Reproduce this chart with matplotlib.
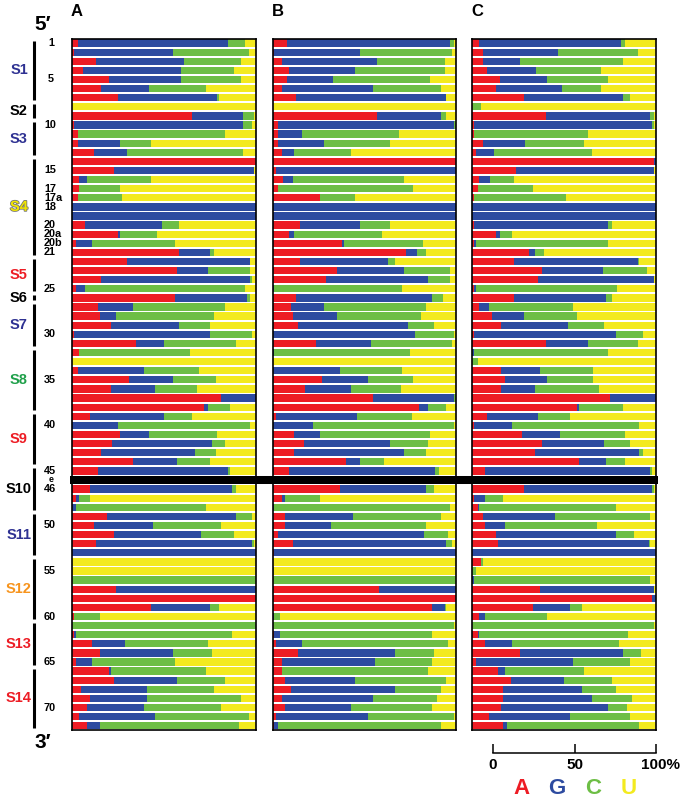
import numpy as np
import matplotlib
matplotlib.use("Agg")
import matplotlib.pyplot as plt
import matplotlib.patheffects as pe
from matplotlib import font_manager as fm

plt.rcParams["font.family"] = ["Liberation Sans", "DejaVu Sans"]

W, H = 680, 798

# rows, 5' -> 3' (e = variable loop marker)
positions = ["1", "2", "3", "4", "5", "6", "7", "8", "9", "10", "11", "12", "13", "14", "15", "16", "17",
             "17a", "18", "19", "20", "20a", "20b",
             "21", "22", "23", "24", "25", "26", "27", "28", "29", "30", "31", "32", "33", "34", "35",
             "36", "37", "38", "39", "40", "41", "42", "43", "44", "45",
             "e",
             "46", "47", "48", "49", "50", "51", "52", "53", "54", "55", "56", "57", "58", "59", "60",
             "61", "62", "63", "64", "65", "66", "67", "68", "69", "70", "71", "72"]

# % A / G / C / U per row, panel A
a_A = [3, 1, 13, 6, 20, 16, 25, 0, 65, 1, 3, 3, 12, 100, 23, 4, 4, 3, 0, 0, 7, 25, 2,
       58, 30, 57, 16, 2, 56, 14, 15, 21, 1, 35, 4, 0, 3, 31, 21, 81, 72, 10, 0, 26, 22, 16, 33, 14, 0,
       10, 2, 0, 19, 12, 23, 13, 0, 0, 0, 0, 24, 100, 43, 1, 0, 1, 11, 15, 2, 20, 23, 5, 10, 8, 4, 8]
a_G = [82, 54, 48, 53, 39, 26, 54, 0, 28, 92, 0, 23, 18, 0, 76, 4, 0, 0, 100, 100, 42, 1, 9,
       17, 67, 17, 81, 5, 39, 19, 9, 37, 74, 15, 0, 0, 36, 24, 24, 19, 2, 40, 25, 16, 54, 51, 24, 71, 0,
       77, 2, 2, 70, 32, 47, 85, 100, 0, 0, 0, 76, 0, 32, 0, 0, 1, 18, 40, 9, 1, 34, 36, 31, 31, 41, 7]
a_C = [9, 41, 31, 29, 33, 31, 1, 0, 6, 5, 80, 17, 63, 0, 0, 35, 22, 24, 0, 0, 9, 20, 45,
       2, 0, 23, 1, 87, 2, 50, 53, 17, 23, 39, 60, 0, 30, 23, 23, 0, 12, 15, 72, 37, 7, 11, 18, 1, 0,
       2, 6, 71, 9, 37, 18, 1, 0, 0, 0, 100, 0, 0, 5, 14, 100, 85, 45, 21, 45, 52, 26, 36, 51, 42, 51, 76]
a_U = [6, 4, 8, 12, 8, 27, 20, 100, 1, 2, 17, 57, 7, 0, 1, 57, 74, 73, 0, 0, 42, 54, 44,
       23, 3, 3, 2, 6, 3, 17, 23, 25, 2, 11, 36, 100, 31, 22, 32, 0, 14, 35, 3, 21, 17, 22, 25, 14, 0,
       11, 90, 27, 2, 19, 12, 1, 0, 100, 100, 0, 0, 0, 20, 85, 0, 13, 26, 24, 44, 27, 17, 23, 8, 19, 4, 9]

# panel B
b_A = [8, 1, 5, 9, 8, 5, 13, 0, 57, 3, 3, 3, 5, 100, 2, 6, 3, 26, 0, 0, 15, 9, 38,
       73, 15, 35, 29, 0, 13, 10, 11, 14, 0, 24, 0, 0, 0, 27, 18, 55, 80, 2, 0, 12, 17, 12, 40, 9, 0,
       37, 5, 0, 7, 7, 3, 11, 1, 0, 0, 0, 58, 100, 87, 0, 0, 1, 2, 14, 5, 5, 7, 10, 5, 7, 2, 1]
b_G = [89, 47, 52, 36, 25, 50, 82, 0, 35, 96, 13, 25, 7, 0, 98, 5, 0, 0, 100, 100, 33, 3, 1,
       6, 48, 37, 56, 1, 74, 18, 24, 60, 78, 30, 1, 0, 37, 25, 25, 44, 5, 44, 22, 14, 47, 60, 8, 80, 0,
       47, 2, 1, 37, 25, 80, 84, 99, 0, 0, 0, 42, 0, 7, 1, 0, 3, 14, 53, 51, 0, 38, 57, 50, 36, 50, 2]
b_C = [2, 50, 37, 49, 53, 37, 0, 0, 3, 1, 53, 36, 31, 0, 0, 61, 74, 19, 0, 0, 16, 48, 43,
       5, 4, 25, 12, 70, 6, 56, 46, 14, 21, 44, 74, 0, 34, 25, 27, 1, 10, 30, 77, 60, 21, 12, 13, 2, 0,
       4, 19, 96, 48, 52, 13, 3, 0, 0, 1, 100, 0, 0, 1, 3, 99, 83, 80, 21, 31, 80, 50, 25, 35, 44, 47, 89]
b_U = [1, 2, 6, 6, 14, 8, 5, 100, 5, 0, 31, 36, 57, 0, 0, 28, 23, 55, 0, 0, 36, 40, 18,
       16, 33, 3, 3, 29, 7, 16, 19, 12, 1, 2, 25, 100, 29, 23, 30, 0, 5, 24, 1, 14, 15, 16, 39, 9, 0,
       12, 74, 3, 8, 16, 4, 2, 0, 100, 99, 0, 0, 0, 5, 96, 1, 13, 4, 12, 13, 15, 5, 8, 10, 13, 1, 8]

# panel C
c_A = [4, 6, 6, 8, 15, 13, 28, 0, 40, 1, 1, 6, 2, 99, 24, 4, 3, 1, 0, 0, 1, 13, 1,
       31, 23, 38, 36, 1, 23, 4, 11, 16, 1, 40, 0, 0, 16, 18, 16, 75, 57, 8, 1, 27, 38, 34, 58, 7, 0,
       28, 1, 3, 6, 7, 13, 14, 0, 5, 0, 0, 37, 98, 33, 4, 0, 3, 7, 26, 2, 14, 21, 17, 17, 16, 9, 17]
c_G = [77, 41, 20, 27, 26, 36, 54, 0, 57, 97, 0, 23, 10, 1, 75, 6, 0, 0, 100, 100, 73, 2, 1,
       3, 67, 33, 63, 1, 50, 5, 17, 36, 77, 23, 1, 0, 21, 23, 18, 25, 1, 28, 21, 21, 34, 57, 15, 90, 0,
       70, 6, 1, 39, 11, 65, 82, 100, 0, 0, 1, 62, 2, 20, 3, 0, 1, 15, 56, 53, 4, 29, 43, 48, 58, 44, 2]
c_C = [2, 43, 56, 35, 33, 21, 4, 5, 2, 1, 62, 32, 53, 0, 0, 13, 30, 50, 0, 0, 2, 7, 72,
       5, 1, 24, 0, 77, 3, 46, 29, 20, 15, 27, 73, 3, 29, 25, 35, 0, 24, 17, 69, 35, 14, 2, 10, 1, 0,
       1, 10, 74, 52, 50, 10, 1, 0, 1, 2, 96, 0, 0, 7, 34, 99, 81, 58, 10, 31, 43, 26, 18, 22, 10, 33, 72]
c_U = [17, 10, 18, 30, 26, 30, 14, 95, 1, 1, 37, 39, 35, 0, 1, 77, 67, 49, 0, 0, 24, 78, 26,
       61, 9, 5, 1, 21, 24, 45, 43, 28, 7, 10, 26, 97, 34, 34, 31, 0, 18, 47, 9, 17, 14, 7, 17, 2, 0,
       1, 83, 22, 3, 32, 12, 3, 0, 94, 98, 3, 1, 0, 40, 59, 1, 15, 20, 8, 14, 39, 24, 22, 13, 16, 14, 9]

# stems: name, first row, last row, label colour
stem_names = ["S1", "S2", "S3", "S4", "S5", "S6", "S7", "S8", "S9", "S10", "S11", "S12", "S13", "S14"]
stem_first = ["1", "8", "10", "14", "22", "26", "27", "32", "39", "45", "49", "54", "61", "66"]
stem_last = ["7", "9", "13", "21", "25", "26", "31", "38", "44", "48", "53", "60", "65", "72"]
stem_colors = ["#2E3192", "black", "#2E3192", "#F2E600", "#ED1C24", "black", "#2E3192",
               "#1FA04A", "#ED1C24", "black", "#2E3192", "#F7941D", "#ED1C24", "#ED1C24"]

shown_labels = ["1", "5", "10", "15", "17", "17a", "18", "20", "20a", "20b", "21", "25", "30",
                "35", "40", "45", "e", "46", "50", "55", "60", "65", "70"]

nuc_labels = ["A", "G", "C", "U"]
nuc_colors = ["#ED1C24", "#2D4BA0", "#6DBE45", "#F3EA1F"]

panels = [("A", (a_A, a_G, a_C, a_U)),
          ("B", (b_A, b_G, b_C, b_U)),
          ("C", (c_A, c_G, c_C, c_U))]
panel_x = [(72, 256), (272.5, 455.5), (472, 656)]
TOP, BOT = 38.5, 730.3

n = len(positions)
for _, cols in panels:
    for col in cols:
        assert len(col) == n


def px_axes(fig, x0, x1, y0, y1):
    return fig.add_axes([x0 / W, 1 - y1 / H, (x1 - x0) / W, (y1 - y0) / H])


fig = plt.figure(figsize=(W / 100, H / 100), dpi=100)
rows = np.arange(n)

for (title, cols), (x0, x1) in zip(panels, panel_x):
    ax = px_axes(fig, x0, x1, TOP, BOT)
    left = np.zeros(n)
    for vals, colr in zip(cols, nuc_colors):
        vals = np.array(vals, dtype=float)
        ax.barh(rows, vals, left=left, height=0.8, color=colr, linewidth=0)
        left = left + vals
    ax.set_xlim(0, left.max())
    ax.set_ylim(n - 0.5, -0.5)
    ax.set_xticks([])
    ax.set_yticks([])
    for sp in ax.spines.values():
        sp.set_linewidth(1.2)
        sp.set_color("black")
    fig.text((x0 + 5) / W, 1 - 11 / H, title, ha="center", va="center",
             fontsize=12, fontweight="bold")

# black band for the variable loop, across all three panels
band = px_axes(fig, 70, 658, TOP, BOT)
band.barh(positions.index("e"), 1, height=0.9, color="black")
band.set_xlim(0, 1)
band.set_ylim(n - 0.5, -0.5)
band.axis("off")

# left side: stems and numbering
lab = px_axes(fig, 0, 70, TOP, BOT)
lab.set_xlim(0, 70)
lab.set_ylim(n - 0.5, -0.5)
lab.axis("off")

names = {f.name for f in fm.fontManager.ttflist}
num_family = "Liberation Sans Narrow" if "Liberation Sans Narrow" in names else "Liberation Sans"

for name, first, last, colr in zip(stem_names, stem_first, stem_last, stem_colors):
    i0, i1 = positions.index(first), positions.index(last)
    lab.vlines(34, i0 - 0.5 + 0.22, i1 + 0.5 - 0.22, color="black", lw=2.2)
    t = lab.text(19, (i0 + i1) / 2, name, ha="center", va="center",
                 fontsize=10.5, fontweight="bold", color=colr)
    if name == "S4":
        t.set_path_effects([pe.withStroke(linewidth=1.2, foreground="#777777")])

for p in shown_labels:
    i = positions.index(p)
    size = 6.3 if p == "e" else 7.8
    if len(p) == 1:
        lab.text(51, i, p, ha="center", va="center", fontsize=size,
                 fontweight="bold", family=num_family)
    else:
        lab.text(44, i, p, ha="left", va="center", fontsize=size,
                 fontweight="bold", family=num_family)

fig.text(43 / W, 1 - 25 / H, "5\u2032", ha="center", va="center", fontsize=15, fontweight="bold")
fig.text(43 / W, 1 - 742 / H, "3\u2032", ha="center", va="center", fontsize=15, fontweight="bold")

# scale bar
sax = px_axes(fig, 493, 656, 744, 752.7)
sax.set_xlim(0, 100)
sax.set_ylim(0, 1)
sax.axis("off")
sax.plot([0, 100], [0, 0], color="black", lw=1.1, clip_on=False)
sax.vlines([0, 50, 100], 0, 1, color="black", lw=1.1, clip_on=False)
for tick, txt in zip([0, 50, 100], ["0", "50", "100%"]):
    dx = 3.6 if txt.endswith("%") else 0
    sax.annotate(txt, (tick, 0), xytext=(dx, -9), textcoords="offset points",
                 ha="center", va="center", fontsize=11, fontweight="bold")

# colour key
for letter, colr, x in zip(nuc_labels, nuc_colors, [522, 557, 593, 629]):
    fig.text(x / W, 1 - 788 / H, letter, ha="center", va="center",
             fontsize=16, fontweight="bold", color=colr)

fig.savefig("out.png", dpi=100)
